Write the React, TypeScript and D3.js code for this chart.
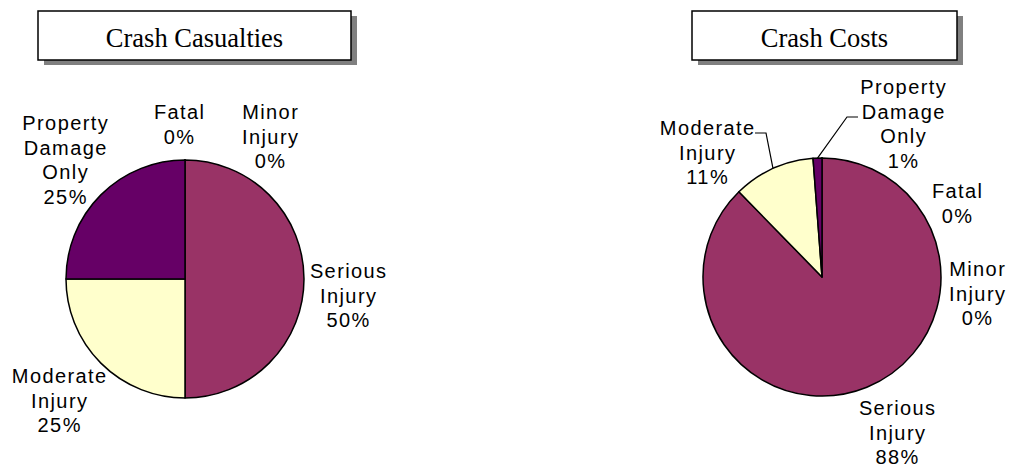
import React from "react";
import * as d3 from "d3";

// categories, in the order the slices run clockwise from 12 o'clock
const categories = ["Fatal", "Minor Injury", "Serious Injury", "Moderate Injury", "Property Damage Only"];
const labelLines = [["Fatal"], ["Minor", "Injury"], ["Serious", "Injury"], ["Moderate", "Injury"], ["Property", "Damage", "Only"]];
const sliceColors = ["#9999FF", "#CCFFFF", "#993366", "#FFFFCC", "#660066"];

const casualtyShares = [0, 0, 50, 25, 25];
const costShares = [0, 0, 87.7, 11.1, 1.2];

const chartTitles = ["Crash Casualties", "Crash Costs"];

const width = 1010;
const height = 466;
const radius = 119;

// label placement (relative to the pie centre), like the hand-dragged labels in the original
const charts = [
    {
        title: chartTitles[0],
        values: casualtyShares,
        cx: 185, cy: 279,
        box: {x: 38, y: 11, w: 313, h: 49},
        labels: [
            {dx: -6, dy: -160},
            {dx: 85, dy: -160},
            {dx: 163, dy: -1},
            {dx: -126, dy: 104},
            {dx: -120, dy: -149}
        ],
        leaders: [null, null, null, null, null]
    },
    {
        title: chartTitles[1],
        values: costShares,
        cx: 822, cy: 277,
        box: {x: 692, y: 11, w: 265, h: 49},
        labels: [
            {dx: 135, dy: -79},
            {dx: 155, dy: -1},
            {dx: 75, dy: 138},
            {dx: -115, dy: -142},
            {dx: 81, dy: -183}
        ],
        leaders: [
            null, null, null,
            [[-67, -144], [-56, -144]],
            [[36, -160], [25, -160]]
        ]
    }
];

const pie = d3.pie<number>().sort(null).startAngle(0).endAngle(2 * Math.PI);
const arc = d3.arc<d3.PieArcDatum<number>>().innerRadius(0).outerRadius(radius);

function PieChart({chart}) {
    const slices = pie(chart.values);
    const b = chart.box;
    const lineH = 24.5;
    const ls = 1.4;

    return (
        <g>
            {/* title box with drop shadow */}
            <rect x={b.x + 6} y={b.y + 5} width={b.w} height={b.h} fill="#808080"/>
            <rect x={b.x} y={b.y} width={b.w} height={b.h} fill="#fff" stroke="#000" strokeWidth={1.5}/>
            <text x={b.x + b.w / 2} y={b.y + 35.5} textAnchor="middle"
                  fontFamily="'Liberation Serif', 'Times New Roman', serif" fontSize={26.5}>
                {chart.title}
            </text>

            <g transform={"translate(" + chart.cx + "," + chart.cy + ")"}>
                {slices.map((s, i) => (
                    <path key={i} d={arc(s)} fill={sliceColors[i]} stroke="#000"
                          strokeWidth={1.5} strokeLinejoin="round"/>
                ))}

                {slices.map((s, i) => {
                    const pts = chart.leaders[i];
                    if (!pts) return null;
                    const mid = (s.startAngle + s.endAngle) / 2;
                    const end = [Math.sin(mid) * radius, -Math.cos(mid) * radius];
                    const line = d3.line()([...pts, end]);
                    return <path key={"l" + i} d={line} fill="none" stroke="#000" strokeWidth={1.2}/>;
                })}

                {slices.map((s, i) => {
                    const p = chart.labels[i];
                    const lines = [...labelLines[i], Math.round(s.data) + "%"];
                    return (
                        <text key={"t" + i} textAnchor="middle" fontSize={20} letterSpacing={ls}
                              fontFamily="'Liberation Sans', Arial, sans-serif" fill="#000">
                            {lines.map((ln, j) => (
                                <tspan key={j} x={p.dx + ls / 2} y={p.dy + j * lineH}>{ln}</tspan>
                            ))}
                        </text>
                    );
                })}
            </g>
        </g>
    );
}

export default function App() {
    return (
        <svg width={width} height={height} style={{position: "absolute", left: 0, top: 0, background: "#fff"}}>
            {charts.map((c, i) => <PieChart key={i} chart={c}/>)}
        </svg>
    );
}
